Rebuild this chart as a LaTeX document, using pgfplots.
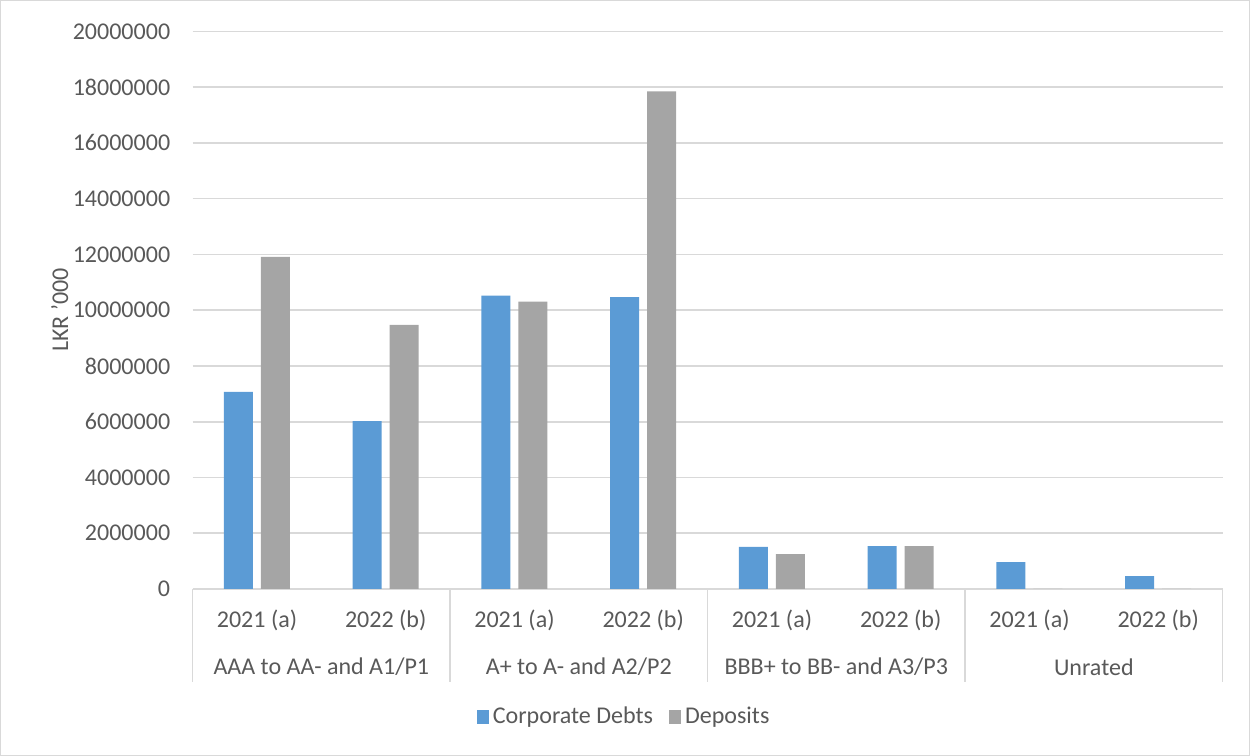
\documentclass[border=0pt]{standalone}
\usepackage{pgfplots}
\pgfplotsset{compat=1.18}
\usepackage{fontspec}
\setmainfont{Carlito}
\definecolor{cblue}{HTML}{5B9BD5}
\definecolor{cgray}{HTML}{A5A5A5}
\definecolor{txt}{HTML}{595959}
\definecolor{gridc}{HTML}{D9D9D9}
\begin{document}
\begin{tikzpicture}
\fontsize{12}{14}\selectfont
\draw[gridc] (0.5pt,0.5pt) rectangle (624.5pt,377.5pt);
\begin{axis}[
  at={(96.5pt,83.5pt)}, anchor=south west,
  scale only axis, width=514.5pt, height=278.5pt,
  ybar=4pt, bar width=14.5pt,
  xmin=-0.5, xmax=7.5, ymin=0, ymax=20000000,
  ytick distance=2000000,
  xtick={0,1,2,3,4,5,6,7},
  xticklabels={2021 (a),2022 (b),2021 (a),2022 (b),2021 (a),2022 (b),2021 (a),2022 (b)},
  scaled y ticks=false,
  yticklabel style={/pgf/number format/fixed,/pgf/number format/1000 sep={},/pgf/number format/assume math mode=true, font=\fontsize{12}{14}\selectfont, text=txt, xshift=-7pt},
  xticklabel style={anchor=center, yshift=-15.5pt, font=\fontsize{12}{14}\selectfont, text=txt},
  major tick length=0pt,
  axis line style={draw=none},
  ymajorgrids, grid style={gridc, line width=0.8pt},
  ylabel={LKR '000},
  ylabel style={at={(axis description cs:-0.129,0.5)}, anchor=center, font=\fontsize{12}{14}\selectfont, text=txt},
  clip=false,
  legend style={at={(0.42,-0.23)}, anchor=center, draw=none, legend columns=2, font=\fontsize{12}{14}\selectfont, text=txt, /tikz/every even column/.append style={column sep=6pt}},
  legend image code/.code={\fill[#1] (0pt,-3.5pt) rectangle (6pt,3.5pt);},
]
\addplot[fill=cblue, draw=none] coordinates {(0,7070000) (1,6020000) (2,10520000) (3,10470000) (4,1510000) (5,1540000) (6,960000) (7,460000)};
\addplot[fill=cgray, draw=none] coordinates {(0,11910000) (1,9470000) (2,10310000) (3,17850000) (4,1250000) (5,1540000) (6,0) (7,0)};
\legend{Corporate Debts, Deposits}
\draw[gridc, line width=0.8pt] (axis cs:-0.5,0) -- ++(0pt,-46.5pt);
\draw[gridc, line width=0.8pt] (axis cs:1.5,0) -- ++(0pt,-46.5pt);
\draw[gridc, line width=0.8pt] (axis cs:3.5,0) -- ++(0pt,-46.5pt);
\draw[gridc, line width=0.8pt] (axis cs:5.5,0) -- ++(0pt,-46.5pt);
\draw[gridc, line width=0.8pt] (axis cs:7.5,0) -- ++(0pt,-46.5pt);
\node[text=txt, font=\fontsize{12}{14}\selectfont] at ([yshift=-39pt]axis cs:0.5,0) {AAA to AA- and A1/P1};
\node[text=txt, font=\fontsize{12}{14}\selectfont] at ([yshift=-39pt]axis cs:2.5,0) {A+ to A- and A2/P2};
\node[text=txt, font=\fontsize{12}{14}\selectfont] at ([yshift=-39pt]axis cs:4.5,0) {BBB+ to BB- and A3/P3};
\node[text=txt, font=\fontsize{12}{14}\selectfont] at ([yshift=-39pt]axis cs:6.5,0) {Unrated};
\end{axis}
\end{tikzpicture}
\end{document}
